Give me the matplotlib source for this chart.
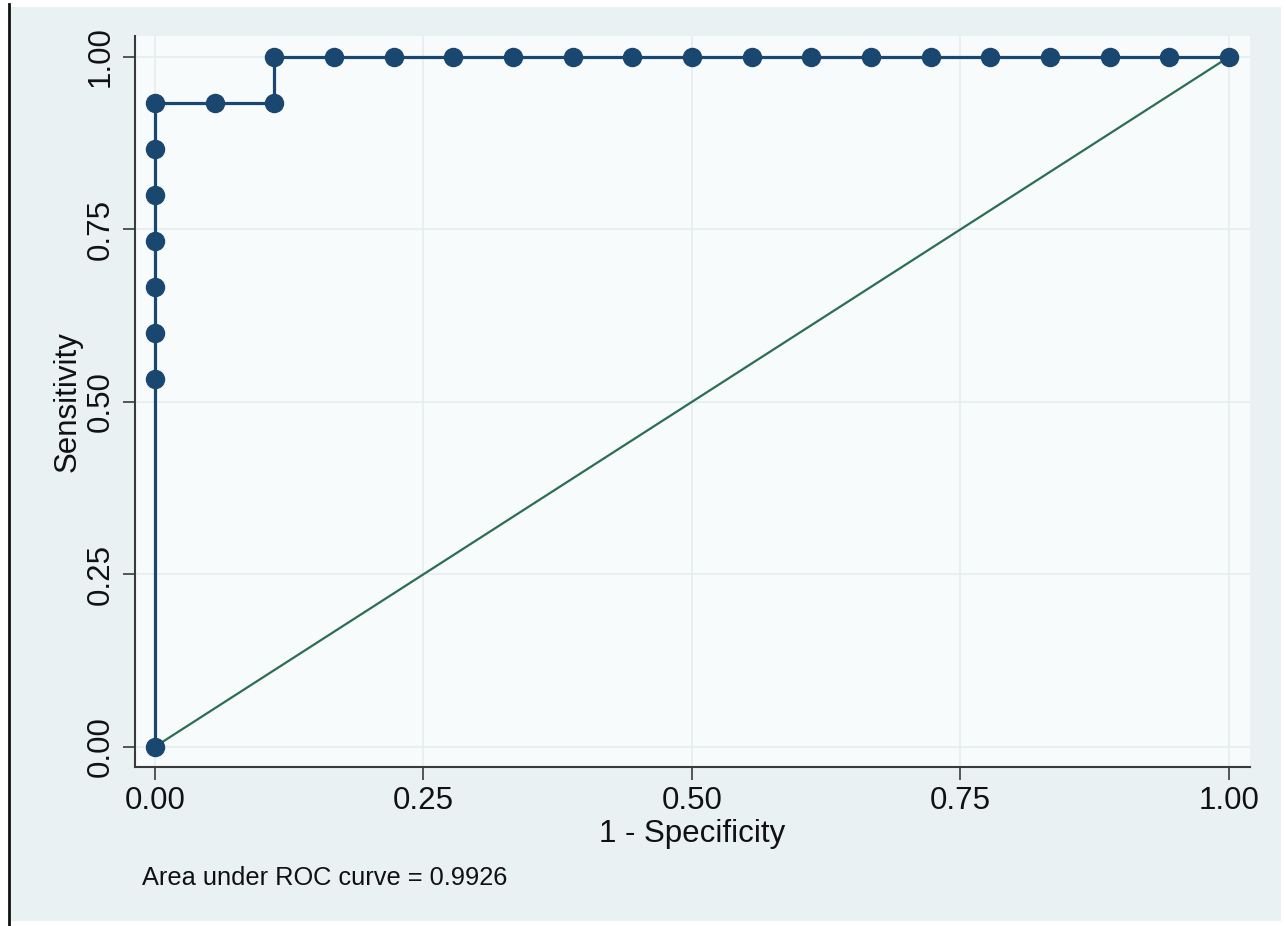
import matplotlib
matplotlib.use("Agg")
import matplotlib.pyplot as plt
from matplotlib.lines import Line2D
import numpy as np

# ROC data (1 - specificity, sensitivity)
fpr = [0.0, 0.0, 0.0, 0.0, 0.0, 0.0, 0.0, 0.0,
       1/18, 2/18, 2/18, 3/18, 4/18, 5/18, 6/18, 7/18, 8/18, 9/18,
       10/18, 11/18, 12/18, 13/18, 14/18, 15/18, 16/18, 17/18, 1.0]
tpr = [0.0, 8/15, 9/15, 10/15, 11/15, 12/15, 13/15, 14/15,
       14/15, 14/15, 1.0, 1.0, 1.0, 1.0, 1.0, 1.0, 1.0, 1.0,
       1.0, 1.0, 1.0, 1.0, 1.0, 1.0, 1.0, 1.0, 1.0]
ref_x = [0.0, 1.0]
ref_y = [0.0, 1.0]
ticks = [0.0, 0.25, 0.5, 0.75, 1.0]
tick_labels = ["0.00", "0.25", "0.50", "0.75", "1.00"]
auc_text = "Area under ROC curve = 0.9926"

plt.rcParams['font.family'] = ['Liberation Sans', 'DejaVu Sans']

W, H = 1286, 926
fig = plt.figure(figsize=(W / 100, H / 100), dpi=100)
fig.patch.set_facecolor("white")

# outer graph region background (separate axes underneath)
bgax = fig.add_axes([0, 0, 1, 1])
bgax.set_zorder(-5)
bgax.set_xlim(0, W)
bgax.set_ylim(H, 0)
bgax.axis("off")
bgax.add_patch(plt.Rectangle((10, 7), 1281 - 10, 921 - 7, facecolor="#EAF1F3",
                             edgecolor="none"))
bgax.plot([8.5, 8.5], [4, H], color="#111111", linewidth=2.0)

left, right, top, bottom = 135, 1250, 36, 767
ax = fig.add_axes([left / W, 1 - bottom / H, (right - left) / W, (bottom - top) / H])
ax.set_facecolor("#F8FBFC")

ax.plot(ref_x, ref_y, color="#2B6E52", linewidth=1.6, zorder=2)
ax.plot(fpr, tpr, color="#1A476F", linewidth=2.3, marker="o", markersize=13,
        markerfacecolor="#1A476F", markeredgecolor="#1A476F", zorder=3)

ax.set_xlim(-0.0186, 1.0196)
ax.set_ylim(-0.0294, 1.0304)
ax.set_xticks(ticks)
ax.set_xticklabels(tick_labels)
ax.set_yticks(ticks)
ax.set_yticklabels(tick_labels, rotation=90, va="center")
ax.grid(True, color="#E6EDEF", linewidth=1.2, zorder=0)
ax.set_axisbelow(True)

for s in ["top", "right"]:
    ax.spines[s].set_visible(False)
for s in ["left", "bottom"]:
    ax.spines[s].set_color("#3A3A3A")
    ax.spines[s].set_linewidth(1.5)

ax.tick_params(axis="both", direction="out", length=9, width=1.2, color="#3A3A3A",
               labelsize=22.5, labelcolor="#111111", pad=5)

ax.set_xlabel("1 - Specificity", fontsize=22.5, color="#111111", labelpad=2)
ax.set_ylabel("Sensitivity", fontsize=22.5, color="#111111", labelpad=2)

fig.text(142 / W, 1 - 878 / H, auc_text, fontsize=18.3, color="#111111",
         ha="left", va="center")

fig.savefig("out.png", dpi=100, facecolor=fig.get_facecolor())
